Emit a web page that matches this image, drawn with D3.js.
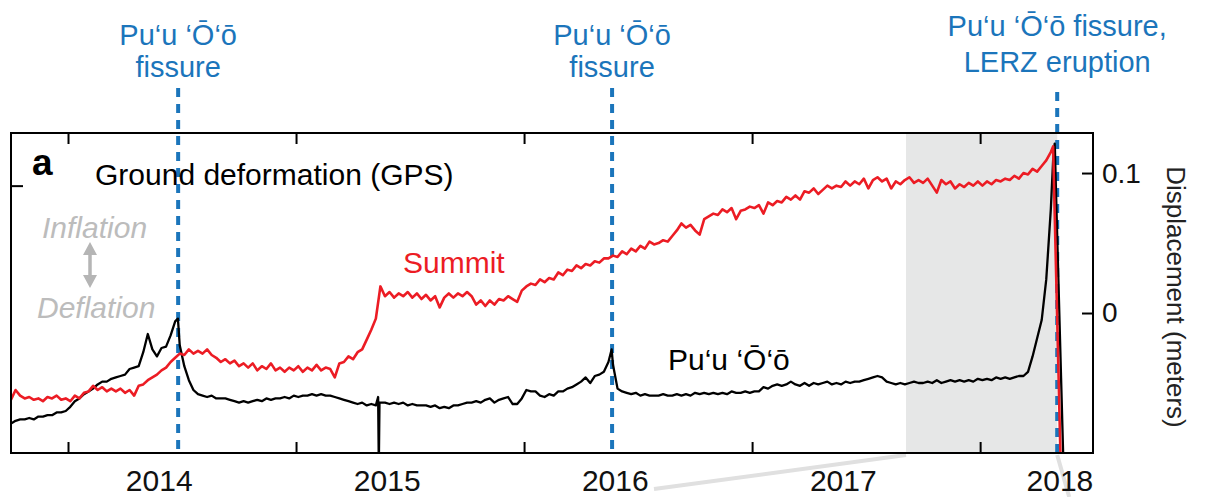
<!DOCTYPE html>
<html><head><meta charset="utf-8">
<script src="https://cdn.jsdelivr.net/npm/d3@7"></script>
<style>
body{margin:0;background:#fff}
svg{display:block}
text{font-family:"Liberation Sans",Arial,Helvetica,sans-serif}
</style>
</head><body>
<svg id="chart" width="1213" height="497"></svg>
<script>
// ---- data (decimal years, displacement in meters) ----
const sampleDates = [
2013.75,2013.77,2013.79,2013.81,2013.83,2013.85,2013.87,2013.89,2013.91,2013.93,
2013.95,2013.97,2013.99,2014.01,2014.03,2014.05,2014.07,2014.09,2014.11,2014.13,
2014.15,2014.17,2014.19,2014.21,2014.23,2014.25,2014.27,2014.29,2014.31,2014.33,
2014.35,2014.37,2014.39,2014.41,2014.43,2014.45,2014.47,2014.49,2014.51,2014.53,
2014.55,2014.57,2014.59,2014.61,2014.63,2014.65,2014.67,2014.69,2014.71,2014.73,
2014.75,2014.77,2014.79,2014.81,2014.83,2014.85,2014.87,2014.89,2014.91,2014.93,
2014.95,2014.97,2014.99,2015.01,2015.03,2015.05,2015.07,2015.09,2015.11,2015.13,
2015.15,2015.17,2015.19,2015.21,2015.23,2015.25,2015.27,2015.29,2015.31,2015.33,
2015.35,2015.37,2015.39,2015.41,2015.43,2015.45,2015.47,2015.49,2015.51,2015.53,
2015.55,2015.57,2015.59,2015.61,2015.63,2015.65,2015.67,2015.69,2015.71,2015.73,
2015.75,2015.77,2015.79,2015.81,2015.83,2015.85,2015.87,2015.89,2015.91,2015.93,
2015.95,2015.97,2015.99,2016.01,2016.03,2016.05,2016.07,2016.09,2016.11,2016.13,
2016.15,2016.17,2016.19,2016.21,2016.23,2016.25,2016.27,2016.29,2016.31,2016.33,
2016.35,2016.37,2016.39,2016.41,2016.43,2016.45,2016.47,2016.49,2016.51,2016.53,
2016.55,2016.57,2016.59,2016.61,2016.63,2016.65,2016.67,2016.69,2016.71,2016.73,
2016.75,2016.77,2016.79,2016.81,2016.83,2016.85,2016.87,2016.89,2016.91,2016.93,
2016.95,2016.97,2016.99,2017.01,2017.03,2017.05,2017.07,2017.09,2017.11,2017.13,
2017.15,2017.17,2017.19,2017.21,2017.23,2017.25,2017.27,2017.29,2017.31,2017.33,
2017.35,2017.37,2017.39,2017.41,2017.43,2017.45,2017.47,2017.49,2017.51,2017.53,
2017.55,2017.57,2017.59,2017.61,2017.63,2017.65,2017.67,2017.69,2017.71,2017.73,
2017.75,2017.77,2017.79,2017.81,2017.83,2017.85,2017.87,2017.89,2017.91,2017.93,
2017.95,2017.97,2017.99,2018.01,2018.03,2018.05,2018.07,2018.09,2018.11,2018.13,
2018.15,2018.17,2018.19,2018.21,2018.23,2018.25,2018.27,2018.29,2018.31
];
const summitValues = [
-0.062,-0.055,-0.059,-0.061,-0.060,-0.062,-0.061,-0.063,-0.060,-0.061,
-0.059,-0.062,-0.061,-0.063,-0.059,-0.061,-0.057,-0.056,-0.052,-0.055,
-0.053,-0.056,-0.054,-0.056,-0.054,-0.057,-0.055,-0.059,-0.052,-0.051,
-0.048,-0.046,-0.044,-0.041,-0.039,-0.035,-0.032,-0.029,-0.030,-0.026,
-0.029,-0.027,-0.029,-0.026,-0.030,-0.032,-0.035,-0.033,-0.036,-0.034,
-0.038,-0.036,-0.039,-0.036,-0.041,-0.038,-0.040,-0.036,-0.041,-0.039,
-0.042,-0.039,-0.041,-0.038,-0.042,-0.039,-0.041,-0.037,-0.041,-0.039,
-0.040,-0.046,-0.036,-0.035,-0.031,-0.033,-0.028,-0.026,-0.019,-0.012,
-0.004,0.019,0.012,0.015,0.011,0.014,0.012,0.015,0.011,0.014,
0.010,0.013,0.009,0.012,0.004,0.011,0.014,0.011,0.014,0.012,
0.015,0.012,0.006,0.009,0.005,0.009,0.006,0.010,0.009,0.012,
0.010,0.008,0.016,0.019,0.021,0.020,0.024,0.022,0.025,0.024,
0.029,0.027,0.031,0.030,0.034,0.032,0.035,0.034,0.037,0.036,
0.039,0.039,0.041,0.040,0.044,0.042,0.046,0.044,0.048,0.046,
0.051,0.049,0.050,0.052,0.051,0.055,0.059,0.064,0.061,0.063,
0.059,0.056,0.067,0.069,0.071,0.070,0.074,0.072,0.075,0.067,
0.073,0.074,0.076,0.075,0.077,0.071,0.079,0.077,0.080,0.079,
0.083,0.081,0.084,0.081,0.087,0.086,0.089,0.085,0.088,0.091,
0.089,0.091,0.090,0.094,0.091,0.094,0.092,0.096,0.089,0.095,
0.097,0.094,0.096,0.089,0.094,0.092,0.095,0.097,0.093,0.095,
0.093,0.096,0.091,0.086,0.095,0.092,0.094,0.089,0.092,0.090,
0.093,0.091,0.094,0.091,0.094,0.092,0.095,0.094,0.096,0.095,
0.098,0.096,0.100,0.099,0.103,0.101,0.105,0.109,0.115
];
const puuValues = [
-0.079,-0.077,-0.076,-0.076,-0.075,-0.076,-0.074,-0.074,-0.073,-0.073,
-0.071,-0.071,-0.070,-0.067,-0.063,-0.061,-0.058,-0.056,-0.054,-0.051,
-0.049,-0.049,-0.047,-0.046,-0.045,-0.044,-0.040,-0.039,-0.038,-0.028,
-0.015,-0.026,-0.031,-0.025,-0.024,-0.016,-0.006,-0.023,-0.038,-0.048,
-0.055,-0.058,-0.059,-0.060,-0.059,-0.061,-0.061,-0.061,-0.062,-0.063,
-0.064,-0.063,-0.064,-0.063,-0.062,-0.063,-0.061,-0.062,-0.061,-0.061,
-0.060,-0.061,-0.059,-0.060,-0.059,-0.059,-0.058,-0.059,-0.058,-0.059,
-0.059,-0.060,-0.061,-0.062,-0.063,-0.064,-0.065,-0.064,-0.066,-0.065,
-0.066,-0.064,-0.064,-0.065,-0.064,-0.065,-0.064,-0.066,-0.065,-0.066,
-0.066,-0.066,-0.067,-0.066,-0.068,-0.067,-0.068,-0.066,-0.066,-0.065,
-0.064,-0.064,-0.063,-0.064,-0.062,-0.061,-0.064,-0.062,-0.061,-0.060,
-0.065,-0.065,-0.061,-0.055,-0.056,-0.056,-0.059,-0.060,-0.058,-0.059,
-0.056,-0.056,-0.054,-0.053,-0.051,-0.049,-0.046,-0.050,-0.045,-0.044,
-0.042,-0.035,-0.037,-0.054,-0.056,-0.057,-0.058,-0.057,-0.059,-0.058,
-0.059,-0.059,-0.059,-0.058,-0.059,-0.059,-0.058,-0.059,-0.058,-0.059,
-0.057,-0.058,-0.057,-0.058,-0.057,-0.058,-0.057,-0.058,-0.056,-0.057,
-0.057,-0.056,-0.057,-0.056,-0.056,-0.053,-0.054,-0.052,-0.051,-0.052,
-0.051,-0.049,-0.051,-0.052,-0.050,-0.052,-0.050,-0.051,-0.050,-0.049,
-0.051,-0.050,-0.051,-0.049,-0.050,-0.049,-0.049,-0.048,-0.047,-0.046,
-0.045,-0.046,-0.049,-0.050,-0.051,-0.050,-0.051,-0.050,-0.049,-0.050,
-0.050,-0.049,-0.050,-0.048,-0.050,-0.049,-0.048,-0.049,-0.048,-0.049,
-0.048,-0.049,-0.047,-0.048,-0.047,-0.048,-0.046,-0.047,-0.046,-0.047,
-0.046,-0.045,-0.045,-0.042,-0.031,-0.018,-0.005,0.024,0.074
];
// individual readings between regular samples (peaks, spike, collapse)
const summitExtraDates  = [2018.320, 2018.352];
const summitExtraValues = [0.119, -0.100];
const puuExtraDates  = [2014.482, 2015.360, 2015.363, 2015.366, 2016.384, 2018.320, 2018.327, 2018.364];
const puuExtraValues = [-0.004, -0.060, -0.110, -0.064, -0.026, 0.109, 0.121, -0.100];

const eventDates  = [2014.483, 2016.386, 2018.338];
const eventLines1 = ["Pu‘u ‘Ō‘ō", "Pu‘u ‘Ō‘ō", "Pu‘u ‘Ō‘ō fissure,"];
const eventLines2 = ["fissure", "fissure", "LERZ eruption"];
const shadeRange  = [2017.675, 2018.338];

const xTickDates  = [2014, 2015, 2016, 2017, 2018];
const xTickLabels = ["2014", "2015", "2016", "2017", "2018"];
const xLabelDates = [2014.40, 2015.40, 2016.40, 2017.40, 2018.35];
const yTickValues = [0, 0.1];
const yTickLabels = ["0", "0.1"];
const leftTickValues = [0.091];

// ---- layout ----
const W = 1213, H = 497;
const plot = {left: 11, right: 1093, top: 133, bottom: 453};
const svg = d3.select("#chart");
const x = d3.scaleLinear().domain([2013.75, 2018.495]).range([plot.left, plot.right]);
const y = d3.scaleLinear().domain([-0.1, 0.1286]).range([plot.bottom, plot.top]);

const BLUE = "#1b75bb", RED = "#ec1c24", GREY_TXT = "#bcbcbc";

function series(dates, vals, exD, exV) {
  const pts = dates.map((t, i) => ({t, v: vals[i]})).filter(d => d.v !== undefined);
  exD.forEach((t, i) => pts.push({t, v: exV[i]}));
  return pts.sort((a, b) => a.t - b.t);
}
const summit = series(sampleDates, summitValues, summitExtraDates, summitExtraValues);
const puu = series(sampleDates, puuValues, puuExtraDates, puuExtraValues);

svg.append("defs").append("clipPath").attr("id", "clip")
  .append("rect").attr("x", plot.left).attr("y", plot.top)
  .attr("width", plot.right - plot.left).attr("height", plot.bottom - plot.top);

// zoom connector lines (to panel below)
const xs0 = x(shadeRange[0]), xs1 = x(shadeRange[1]);
svg.append("line").attr("x1", xs0).attr("y1", plot.bottom + 2).attr("x2", xs0 - 252).attr("y2", plot.bottom + 36)
  .attr("stroke", "#e0e0e0").attr("stroke-width", 4);
svg.append("line").attr("x1", xs1).attr("y1", plot.bottom + 2).attr("x2", xs1 + 12).attr("y2", H)
  .attr("stroke", "#e0e0e0").attr("stroke-width", 4);

// shaded period
svg.append("rect").attr("x", xs0).attr("y", plot.top)
  .attr("width", xs1 - xs0).attr("height", plot.bottom - plot.top).attr("fill", "#e6e7e7");

// event dashed lines
eventDates.forEach((d, i) => {
  svg.append("line").attr("x1", x(d)).attr("x2", x(d))
    .attr("y1", i === 2 ? 92 : 88).attr("y2", plot.bottom)
    .attr("stroke", BLUE).attr("stroke-width", 4).attr("stroke-dasharray", "9,7");
});

const line = d3.line().x(d => x(d.t)).y(d => y(d.v));
const g = svg.append("g").attr("clip-path", "url(#clip)");
g.append("path").datum(puu).attr("d", line).attr("fill", "none")
  .attr("stroke", "#000").attr("stroke-width", 2.3).attr("stroke-linejoin", "round");
g.append("path").datum(summit).attr("d", line).attr("fill", "none")
  .attr("stroke", RED).attr("stroke-width", 2.6).attr("stroke-linejoin", "round");

// frame
svg.append("rect").attr("x", plot.left).attr("y", plot.top)
  .attr("width", plot.right - plot.left).attr("height", plot.bottom - plot.top)
  .attr("fill", "none").attr("stroke", "#000").attr("stroke-width", 2);

// axes ticks
function styleAxis(sel) {
  sel.select(".domain").remove();
  sel.selectAll(".tick line").attr("stroke", "#000").attr("stroke-width", 2);
}
svg.append("g").attr("transform", `translate(0,${plot.bottom})`)
  .call(d3.axisBottom(x).tickValues(xTickDates).tickSize(-11).tickFormat("")).call(styleAxis);
svg.append("g").attr("transform", `translate(0,${plot.top})`)
  .call(d3.axisTop(x).tickValues(xTickDates).tickSize(-11).tickFormat("")).call(styleAxis);
svg.append("g").attr("transform", `translate(${plot.left},0)`)
  .call(d3.axisLeft(y).tickValues(leftTickValues).tickSize(-12).tickFormat("")).call(styleAxis);
const ra = svg.append("g").attr("transform", `translate(${plot.right},0)`)
  .call(d3.axisRight(y).tickValues(yTickValues).tickSize(-11).tickPadding(9)
    .tickFormat((d, i) => yTickLabels[i])).call(styleAxis);
ra.selectAll(".tick text").attr("font-size", 28).attr("fill", "#111")
  .attr("font-family", '"Liberation Sans",Arial,sans-serif');

// x labels
xTickLabels.forEach((lab, i) => {
  svg.append("text").attr("x", x(xLabelDates[i])).attr("y", 491)
    .attr("text-anchor", "middle").attr("font-size", 30).attr("fill", "#111").text(lab);
});

// y axis title
svg.append("text").attr("transform", "translate(1167,297) rotate(90)")
  .attr("text-anchor", "middle").attr("font-size", 26).attr("fill", "#222").text("Displacement (meters)");

// event labels
eventDates.forEach((d, i) => {
  const b1 = i === 2 ? 36 : 45, b2 = i === 2 ? 72 : 77;
  svg.append("text").attr("x", x(d)).attr("y", b1).attr("text-anchor", "middle")
    .attr("font-size", 29).attr("fill", BLUE).text(eventLines1[i]);
  svg.append("text").attr("x", x(d)).attr("y", b2).attr("text-anchor", "middle")
    .attr("font-size", 29).attr("fill", BLUE).text(eventLines2[i]);
});

// panel texts
svg.append("text").attr("x", 32).attr("y", 175).attr("font-size", 37).attr("font-weight", "bold").text("a");
svg.append("text").attr("x", 95).attr("y", 185).attr("font-size", 30).attr("fill", "#000").text("Ground deformation (GPS)");
svg.append("text").attr("x", 42).attr("y", 238).attr("font-size", 30).attr("font-style", "italic").attr("fill", GREY_TXT).text("Inflation");
svg.append("text").attr("x", 37).attr("y", 318).attr("font-size", 30).attr("font-style", "italic").attr("fill", GREY_TXT).text("Deflation");
// double arrow
const ax = 90;
svg.append("line").attr("x1", ax).attr("x2", ax).attr("y1", 252).attr("y2", 278)
  .attr("stroke", "#b5b5b5").attr("stroke-width", 3.5);
svg.append("path").attr("d", `M${ax-7},255 L${ax+7},255 L${ax},242 Z M${ax-7},275 L${ax+7},275 L${ax},288 Z`)
  .attr("fill", "#b5b5b5");

svg.append("text").attr("x", 403).attr("y", 273).attr("font-size", 30).attr("fill", RED).text("Summit");
svg.append("text").attr("x", 668).attr("y", 370).attr("font-size", 30).attr("fill", "#000").text("Pu‘u ‘Ō‘ō");
</script>
</body></html>
